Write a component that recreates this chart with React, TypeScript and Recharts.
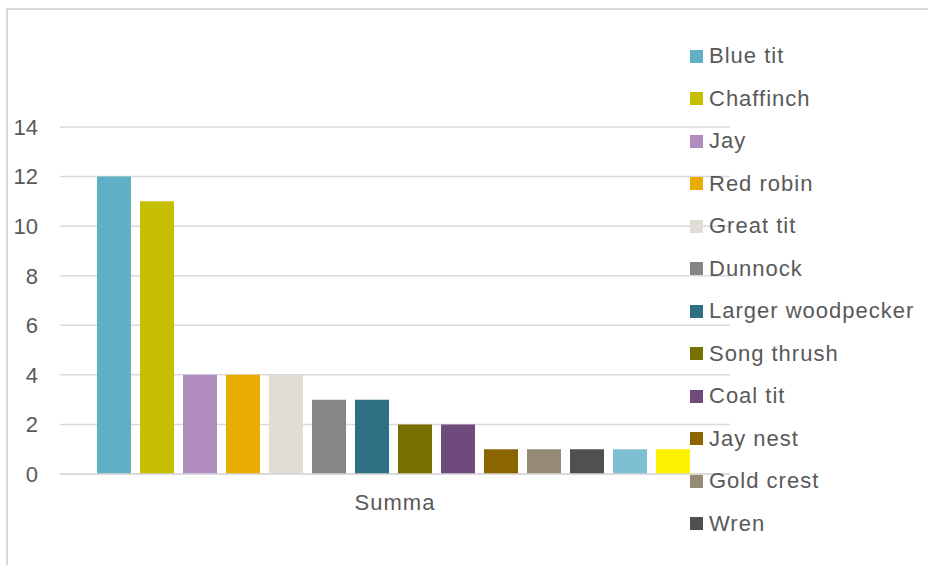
import { BarChart, Bar, XAxis, YAxis, CartesianGrid } from "recharts";

const categories = ["Summa"];

const birds = [
  "Blue tit",
  "Chaffinch",
  "Jay",
  "Red robin",
  "Great tit",
  "Dunnock",
  "Larger woodpecker",
  "Song thrush",
  "Coal tit",
  "Jay nest",
  "Gold crest",
  "Wren",
  "Series 13",
  "Series 14",
];

const counts = [12, 11, 4, 4, 4, 3, 3, 2, 2, 1, 1, 1, 1, 1];

const colors = [
  "#5fafc7",
  "#c6be00",
  "#b18cbe",
  "#e9ac00",
  "#dfddd6",
  "#868686",
  "#2e6f81",
  "#767100",
  "#6f4a7c",
  "#8b6600",
  "#958a74",
  "#505050",
  "#7fbfd2",
  "#fff200",
];

const yTicks = [0, 2, 4, 6, 8, 10, 12, 14];

// the original legend runs off the bottom after the 12th entry
const legendShown = 12;

const data = categories.map((name) => {
  const row: Record<string, string | number> = { name };
  birds.forEach((b, i) => {
    row[b] = counts[i];
  });
  return row;
});

const font = "'Liberation Sans', Arial, sans-serif";
const textColor = "#595959";
const gridColor = "#d9d9d9";

function BirdLegend() {
  return (
    <div
      style={{
        position: "absolute",
        left: 690,
        top: 35,
        width: 238,
        fontFamily: font,
        fontSize: 22,
        letterSpacing: 1,
        color: textColor,
      }}
    >
      {birds.slice(0, legendShown).map((b, i) => (
        <div key={b} style={{ display: "flex", alignItems: "center", height: 42.5 }}>
          <span
            style={{
              width: 13,
              height: 13,
              background: colors[i],
              marginRight: 6,
              flexShrink: 0,
            }}
          />
          <span style={{ whiteSpace: "nowrap" }}>{b}</span>
        </div>
      ))}
    </div>
  );
}

export default function App() {
  return (
    <div
      style={{
        position: "fixed",
        left: 0,
        top: 0,
        width: 928,
        height: 565,
        overflow: "hidden",
        background: "#fff",
      }}
    >
      <div
        style={{
          position: "absolute",
          left: 6,
          top: 8,
          width: 940,
          height: 600,
          borderTop: `2px solid ${gridColor}`,
          borderLeft: `2px solid ${gridColor}`,
        }}
      />
      <div style={{ position: "absolute", left: 0, top: 0 }}>
        <BarChart
          width={928}
          height={565}
          data={data}
          margin={{ top: 127, right: 198, bottom: 61, left: 8 }}
          barCategoryGap={37}
          barGap={9}
        >
          <CartesianGrid vertical={false} stroke={gridColor} strokeWidth={1.5} />
          <XAxis
            dataKey="name"
            height={30}
            axisLine={{ stroke: gridColor, strokeWidth: 1.5 }}
            tickLine={false}
            tickSize={0}
            tickMargin={20}
            tick={{ fill: textColor, fontSize: 22, fontFamily: font, letterSpacing: 1 }}
          />
          <YAxis
            width={52}
            domain={[0, 14]}
            ticks={yTicks}
            axisLine={false}
            tickLine={false}
            tickSize={0}
            tickMargin={22}
            tick={{ fill: textColor, fontSize: 22, fontFamily: font }}
          />
          {birds.map((b, i) => (
            <Bar key={b} dataKey={b} fill={colors[i]} isAnimationActive={false} />
          ))}
        </BarChart>
      </div>
      <BirdLegend />
    </div>
  );
}
